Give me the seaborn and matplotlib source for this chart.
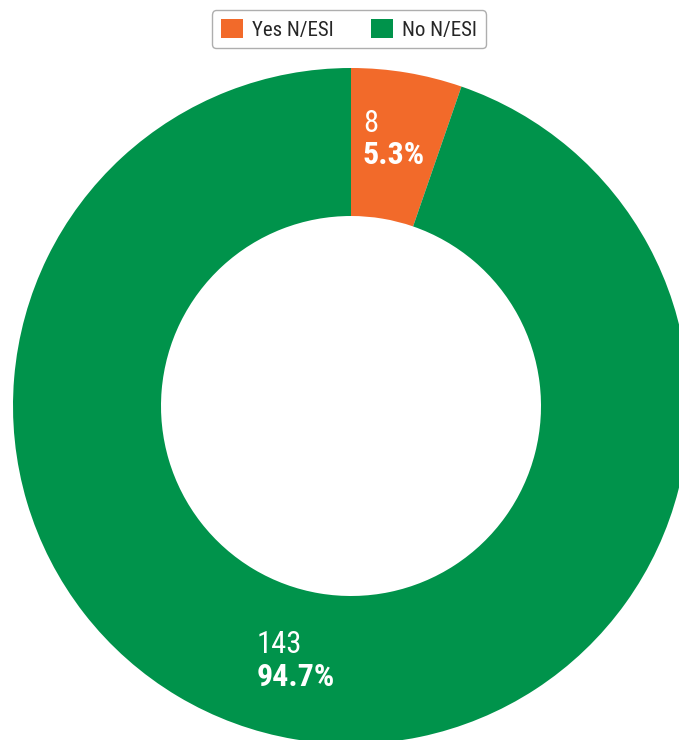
import numpy as np
import seaborn as sns
import matplotlib.pyplot as plt

# data
labels = ['Yes N/ESI', 'No N/ESI']
counts = [8, 143]
colors = ['#F26A2A', '#00934B']

sns.set_theme(style='white')
plt.rcParams['font.family'] = ['Liberation Sans Narrow', 'Roboto Condensed', 'DejaVu Sans']

W, H = 679, 740
fig = plt.figure(figsize=(W / 100, H / 100), dpi=100)
ax = fig.add_axes([0, 0, 1, 1])

cx, cy, R = 351, H - 406, 338
wedges, _ = ax.pie(counts, colors=colors, startangle=90, counterclock=False,
                   center=(cx, cy), radius=R, frame=True,
                   wedgeprops=dict(width=R - 190, linewidth=0))
ax.set_xlim(0, W)
ax.set_ylim(0, H)
ax.set_aspect('equal')
ax.axis('off')

total = sum(counts)
pct = [c / total * 100 for c in counts]
label_r = [0.8 * R, 0.765 * R]
x_shift = [-33, -52]
for w, c, p, r, dx in zip(wedges, counts, pct, label_r, x_shift):
    mid = np.deg2rad((w.theta1 + w.theta2) / 2)
    tx = cx + r * np.cos(mid) + dx
    ty = cy + r * np.sin(mid)
    ax.text(tx, ty + 16, f'{c}', color='white', fontsize=22,
            ha='left', va='center')
    ax.text(tx, ty - 16, f'{p:.1f}%', color='white', fontsize=23,
            fontweight='bold', ha='left', va='center')

leg = fig.legend(wedges, labels, loc='upper center', ncol=2,
                 bbox_to_anchor=(0.514, 1.0), fontsize=15,
                 handlelength=1.05, handleheight=1.05, handletextpad=0.45,
                 columnspacing=1.8, frameon=True, fancybox=True,
                 borderpad=0.4)
leg.get_frame().set_edgecolor('#9a9a9a')
leg.get_frame().set_linewidth(1.0)

fig.savefig('out.png', dpi=100)
